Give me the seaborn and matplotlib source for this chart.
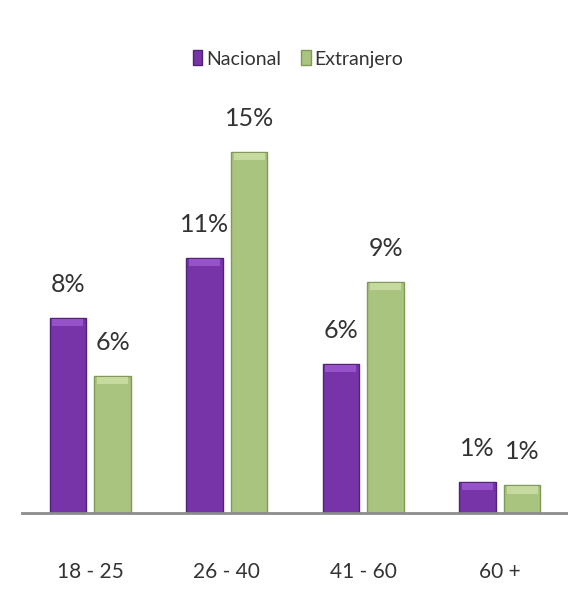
import pandas as pd
import seaborn as sns
import matplotlib.pyplot as plt

# Values (bar heights), and the labels printed on them
categories = ['18 - 25', '26 - 40', '41 - 60', '60 +']
nacional = [8.1, 10.6, 6.2, 1.3]
extranjero = [5.7, 15.0, 9.6, 1.15]
nacional_labels = ['8%', '11%', '6%', '1%']
extranjero_labels = ['6%', '15%', '9%', '1%']
series = ['Nacional', 'Extranjero']

sns.set_style('white')
plt.rcParams['font.family'] = ['Lato', 'DejaVu Sans']

df = pd.DataFrame({
    'grupo': categories * 2,
    'pct': nacional + extranjero,
    'serie': [series[0]] * 4 + [series[1]] * 4,
})

colors = {'Nacional': '#7634a8', 'Extranjero': '#a9c47e'}
edges = {'Nacional': '#512275', 'Extranjero': '#7f9a58'}
tops = {'Nacional': '#9652c8', 'Extranjero': '#c6daa0'}

fig = plt.figure(figsize=(5.68, 6.06), dpi=100)
ax = fig.add_axes([22 / 568, 93 / 606, 546 / 568, 413 / 606])

sns.barplot(data=df, x='grupo', y='pct', hue='serie', palette=colors,
            saturation=1, width=0.656, gap=0.18, ax=ax, legend=False)

# darker edges and a light top strip, like the bevelled Excel bars
for cont, s in zip(ax.containers, series):
    for bar in cont:
        bar.set_edgecolor(edges[s])
        bar.set_linewidth(1.0)
        strip = 0.35
        ax.add_patch(plt.Rectangle((bar.get_x() + 0.02, bar.get_height() - strip),
                                   bar.get_width() - 0.04, strip - 0.04,
                                   facecolor=tops[s], edgecolor='none', zorder=3))

# value labels above bars
for cont, labels in zip(ax.containers, [nacional_labels, extranjero_labels]):
    for bar, lab in zip(cont, labels):
        ax.annotate(lab, (bar.get_x() + bar.get_width() / 2, bar.get_height()),
                    xytext=(0, 24), textcoords='offset points',
                    ha='center', va='center', fontsize=18, color='#333333')

ax.set_ylim(0, 17.16)
ax.set_xlim(-0.5, 3.5)
ax.set_xlabel('')
ax.set_ylabel('')
ax.set_yticks([])
ax.tick_params(axis='x', length=0, pad=35, labelsize=15, labelcolor='#333333')
sns.despine(ax=ax, left=True, top=True, right=True)
ax.spines['bottom'].set_color('#8c8c8c')
ax.spines['bottom'].set_linewidth(2)

handles = [plt.Rectangle((0, 0), 1, 1, facecolor=colors[s], edgecolor=edges[s]) for s in series]
fig.legend(handles, series, loc='center', bbox_to_anchor=(298 / 568, 1 - 59 / 606),
           ncol=2, frameon=False, fontsize=14, handlelength=0.5, handleheight=0.8,
           handletextpad=0.2, columnspacing=1.0, labelcolor='#333333')

fig.savefig('out.png', dpi=100)
